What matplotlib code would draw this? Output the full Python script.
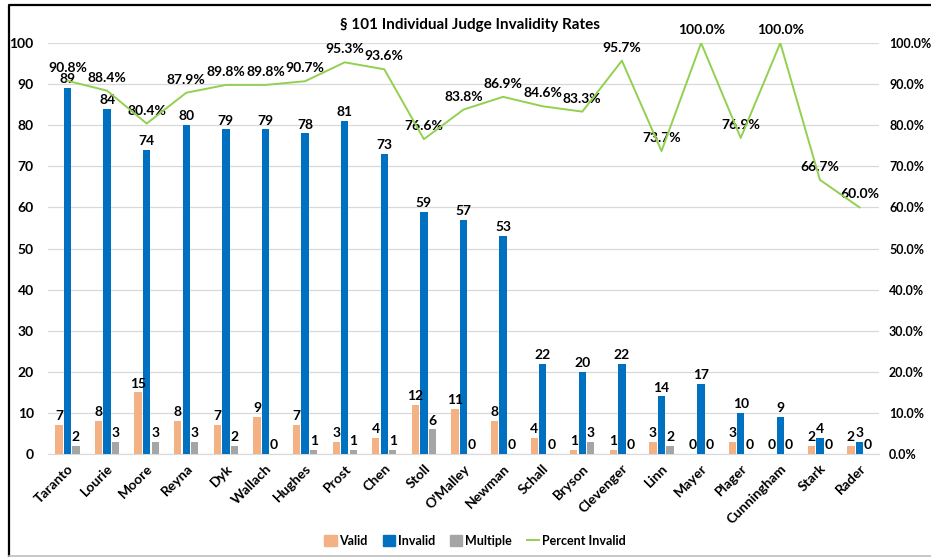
import numpy as np
import matplotlib
matplotlib.use('Agg')
import matplotlib.pyplot as plt
from matplotlib.lines import Line2D
from matplotlib.patches import Patch
from matplotlib.ticker import FuncFormatter

plt.rcParams['font.family'] = ['Lato', 'DejaVu Sans']
plt.rcParams['font.weight'] = 'bold'

JUDGES = ['Taranto', 'Lourie', 'Moore', 'Reyna', 'Dyk', 'Wallach', 'Hughes',
          'Prost', 'Chen', 'Stoll', "O'Malley", 'Newman', 'Schall', 'Bryson',
          'Clevenger', 'Linn', 'Mayer', 'Plager', 'Cunningham', 'Stark', 'Rader']
VALID    = [7, 8, 15, 8, 7, 9, 7, 3, 4, 12, 11, 8, 4, 1, 1, 3, 0, 3, 0, 2, 2]
INVALID  = [89, 84, 74, 80, 79, 79, 78, 81, 73, 59, 57, 53, 22, 20, 22, 14, 17, 10, 9, 4, 3]
MULTIPLE = [2, 3, 3, 3, 2, 0, 1, 1, 1, 6, 0, 0, 0, 3, 0, 2, 0, 0, 0, 0, 0]
PCT_INVALID = [90.8, 88.4, 80.4, 87.9, 89.8, 89.8, 90.7, 95.3, 93.6, 76.6, 83.8,
               86.9, 84.6, 83.3, 95.7, 73.7, 100.0, 76.9, 100.0, 66.7, 60.0]

C_VALID, C_INVALID, C_MULT, C_LINE = '#F4B183', '#0070C0', '#A5A5A5', '#92D050'
GRID = '#D9D9D9'
FS = 10

fig = plt.figure(figsize=(9.31, 5.57), dpi=100)
ax = fig.add_axes([0.0512, 0.1849, 0.8933, 0.7379])
ax2 = ax.twinx()

x = np.arange(len(JUDGES))
bw, off = 0.185, 0.215
series = [(VALID, -off, C_VALID), (INVALID, 0, C_INVALID), (MULTIPLE, off, C_MULT)]
for vals, dx, col in series:
    bars = ax.bar(x + dx, vals, width=bw, color=col, zorder=3)
    for rect, v in zip(bars, vals):
        ax.annotate(f'{v}', (rect.get_x() + rect.get_width() / 2, v),
                    xytext=(0, 2), textcoords='offset points',
                    ha='center', va='bottom', fontsize=FS, fontweight='bold', zorder=5)

ax.set_xlim(-0.5, len(JUDGES) - 0.5)
ax.set_ylim(0, 100)
ax.set_yticks(range(0, 101, 10))
ax.grid(True, axis='y', color=GRID, lw=0.9, zorder=0)
ax.set_axisbelow(True)
ax.set_xticks(x)
ax.set_xticklabels(JUDGES, rotation=45, ha='right', rotation_mode='anchor',
                   fontsize=FS, fontweight='bold')
ax.tick_params(axis='both', length=0, labelsize=FS)
ax.tick_params(axis='x', pad=6)
ax.tick_params(axis='y', pad=10)

# Percent invalid on the secondary axis
ax2.plot(x, PCT_INVALID, color=C_LINE, lw=1.4, zorder=4)
for xi, p in zip(x, PCT_INVALID):
    ax2.annotate(f'{p:.1f}%', (xi, p), xytext=(0, 5), textcoords='offset points',
                 ha='center', va='bottom', fontsize=FS, fontweight='bold')
ax2.set_ylim(0, 100)
ax2.set_yticks(range(0, 101, 10))
ax2.yaxis.set_major_formatter(FuncFormatter(lambda v, _: f'{v:.1f}%'))
ax2.tick_params(axis='y', length=0, labelsize=9, pad=7)

for a in (ax, ax2):
    for s in a.spines.values():
        s.set_visible(False)
ax.spines['bottom'].set_visible(True)
ax.spines['bottom'].set_color(GRID)

fig.text(0.505, 0.955, '§ 101 Individual Judge Invalidity Rates',
         ha='center', va='center', fontsize=11, fontweight='bold')

handles = [Patch(color=C_VALID, label='Valid'),
           Patch(color=C_INVALID, label='Invalid'),
           Patch(color=C_MULT, label='Multiple'),
           Line2D([], [], color=C_LINE, lw=1.4, label='Percent Invalid')]
fig.legend(handles=handles, loc='center', bbox_to_anchor=(0.51, 0.029), ncol=4,
           frameon=False, fontsize=FS - 1, handlelength=1.0, handleheight=0.9,
           handletextpad=0.2, columnspacing=1.2)

# chart frame
fig.add_artist(Line2D([9 / 931, 9 / 931, 1], [1 - 556 / 557, 1 - 5 / 557, 1 - 5 / 557],
                      color='black', lw=1.6, transform=fig.transFigure))
fig.add_artist(Line2D([9 / 931, 1], [1 - 555.5 / 557] * 2,
                      color='#BFBFBF', lw=1.2, transform=fig.transFigure))

fig.savefig('out.png', dpi=100)
